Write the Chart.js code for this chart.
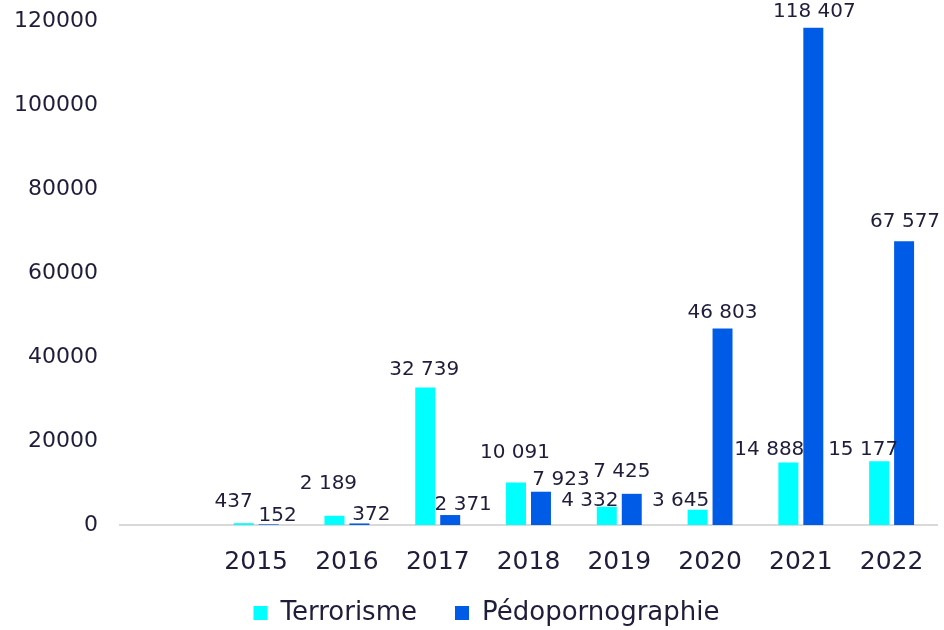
<!DOCTYPE html>
<html>
<head>
<meta charset="utf-8">
<script src="https://cdn.jsdelivr.net/npm/chart.js@4"></script>
<style>
  html, body { margin: 0; padding: 0; background: #fff; }
  #wrap { width: 944px; height: 630px; }
</style>
</head>
<body>
<div id="wrap"><canvas id="myChart" width="944" height="630"></canvas></div>
<script>
// first slot is left empty, like in the original chart
var years = ["", "2015", "2016", "2017", "2018", "2019", "2020", "2021", "2022"];
var terrorisme = [null, 437, 2189, 32739, 10091, 4332, 3645, 14888, 15177];
var pedo = [null, 152, 372, 2371, 7923, 7425, 46803, 118407, 67577];
var yTicks = [0, 20000, 40000, 60000, 80000, 100000, 120000];

var textColor = "#1e1e3c";
var colors = ["#00FFFF", "#005CE6"];

// small nudges [dx, gap above bar] for the value labels so they sit like the original
var labelNudge = [
  [[0, 0], [-10, 21], [-6, 32], [-1, 17.5], [-1, 30], [-17, 6], [-17, 9], [-19, 13], [-16, 11]],
  [[0, 0], [9, 9], [12, 9], [13, 10.5], [20, 12], [-10, 22.5], [0, 16], [1, 15.5], [1, 19]]
];

function fmt(v) {
  return String(v).replace(/\B(?=(\d{3})+(?!\d))/g, " ");
}

// draws the value above every bar
var valueLabels = {
  id: "valueLabels",
  afterDatasetsDraw: function (chart) {
    var ctx = chart.ctx;
    ctx.save();
    ctx.font = "20px 'DejaVu Sans'";
    ctx.fillStyle = textColor;
    ctx.textAlign = "center";
    ctx.textBaseline = "middle";
    chart.data.datasets.forEach(function (ds, d) {
      var meta = chart.getDatasetMeta(d);
      meta.data.forEach(function (bar, i) {
        var v = ds.data[i];
        if (v === null) return;
        var n = labelNudge[d][i];
        ctx.fillText(fmt(v), bar.x + n[0], bar.y - n[1]);
      });
    });
    ctx.restore();
  }
};

// legend padding is big for the gap between items, so pull it back up a bit
// (and a little right, like in the original)
var legendShift = {
  id: "legendShift",
  afterLayout: function (chart) {
    var lg = chart.legend;
    lg.top -= 14;
    lg.bottom -= 14;
    lg.left += 18;
    lg.right += 18;
  }
};

var chart = new Chart(document.getElementById("myChart").getContext("2d"), {
  type: "bar",
  data: {
    labels: years,
    datasets: [
      {
        label: "Terrorisme",
        data: terrorisme,
        backgroundColor: colors[0],
        categoryPercentage: 0.55,
        barPercentage: 0.8
      },
      {
        label: "Pédopornographie",
        data: pedo,
        backgroundColor: colors[1],
        categoryPercentage: 0.55,
        barPercentage: 0.8
      }
    ]
  },
  options: {
    responsive: false,
    animation: false,
    layout: { padding: { top: 21, right: 7, bottom: -20, left: 0 } },
    plugins: {
      legend: {
        position: "bottom",
        labels: {
          font: { family: "'DejaVu Sans'", size: 26 },
          color: textColor,
          boxWidth: 14,
          boxHeight: 14,
          padding: 38
        }
      },
      tooltip: { enabled: false }
    },
    scales: {
      x: {
        grid: { display: false },
        border: { display: true, color: "#d9d9d9", width: 2 },
        ticks: {
          font: { family: "'DejaVu Sans'", size: 25 },
          color: textColor,
          padding: 14,
          maxRotation: 0
        },
        afterFit: function (scale) { scale.height = 51; }
      },
      y: {
        min: 0,
        max: 120000,
        grid: { display: false },
        border: { display: false },
        afterBuildTicks: function (scale) {
          scale.ticks = yTicks.map(function (v) { return { value: v }; });
        },
        ticks: {
          font: { family: "'DejaVu Sans'", size: 22 },
          color: textColor,
          padding: 14,
          callback: function (v) { return String(v); }
        },
        afterFit: function (scale) {
          scale.width = 120;
          scale.paddingTop = 0;
        }
      }
    }
  },
  plugins: [valueLabels, legendShift]
});
</script>
</body>
</html>
